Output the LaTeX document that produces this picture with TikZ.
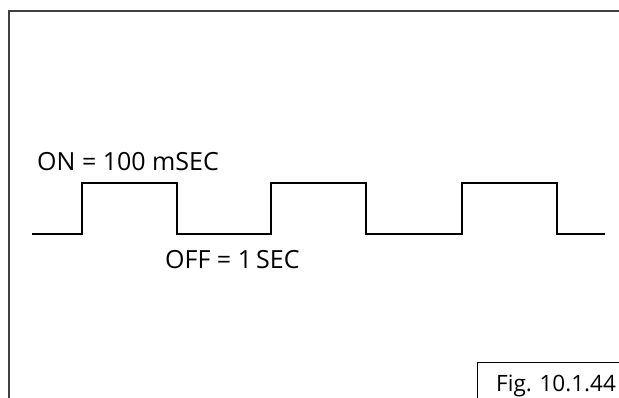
\documentclass[tikz,border=0pt]{standalone}
\usepackage{fontspec}
\setmainfont{Open Sans}
\usetikzlibrary{positioning}

\begin{document}
\begin{tikzpicture}[x=1pt, y=-1pt,
  every node/.style={font=\fontsize{25}{28}\selectfont, inner sep=0pt},
  wave/.style={line width=1.8pt, line join=miter},
  frame/.style={line width=2pt, draw=black!75}
]
\useasboundingbox (0,0) rectangle (619,398);
\draw[frame] (9,420) |- (640,11);
\draw[wave] (32,234) -- (82,234) -- (82,183) -- (177,183) -- (177,234) -- (271,234) -- (271,183) -- (366,183) -- (366,234) -- (462,234) -- (462,183) -- (557,183) -- (557,234) -- (605,234);
\node[anchor=west] (on) at (37,162) {ON = 100 mSEC};
\node[anchor=west] (off) at (165,260) {OFF = 1\,SEC};
\node[anchor=west, font=\fontsize{22.5}{26}\selectfont] (fig) at (496,386) {Fig. 10.1.44};
\draw[line width=1pt] (477,420) |- (640,362);
\end{tikzpicture}
\end{document}
